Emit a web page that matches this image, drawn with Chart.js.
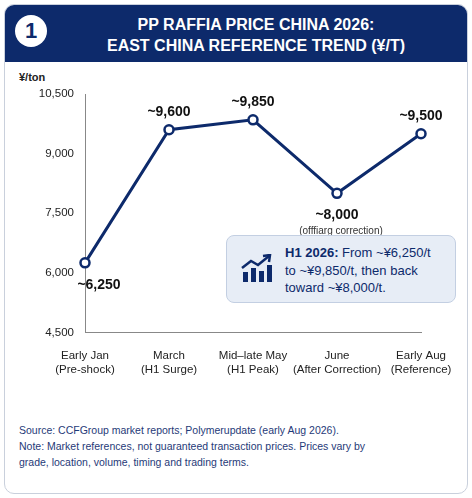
<!DOCTYPE html>
<html>
<head>
<meta charset="utf-8">
<script src="https://cdn.jsdelivr.net/npm/chart.js@4"></script>
<style>
  body { margin: 0; background: #fff; font-family: "Liberation Sans", Arial, sans-serif; }
  #card { position: absolute; left: 4px; top: 4px; width: 462px; height: 488px; border: 1px solid #c9d0dc; border-radius: 10px; overflow: hidden; background: #fff; }
  #head { position: absolute; left: 0; top: 0; width: 462px; height: 57px; background: #0d2a6b; color: #fff; }
  #badge { position: absolute; left: 10px; top: 10px; width: 32px; height: 32px; border-radius: 50%; background: #fff; color: #0d2a6b; font: bold 22px "Liberation Sans"; text-align: center; line-height: 32px; }
  #title { position: absolute; left: 40px; width: 422px; top: 9px; text-align: center; font: bold 16px "Liberation Sans"; line-height: 21px; }
  #unit { position: absolute; left: 14px; top: 66px; font: bold 11px "Liberation Sans"; color: #222; }
  #wrap { position: absolute; left: 0; top: 79px; width: 462px; height: 302px; }
  #note { position: absolute; left: 221px; top: 230px; width: 228px; height: 66px; background: #e7edf6; border: 1px solid #c3cfe2; border-radius: 8px; }
  #note svg { position: absolute; left: 14px; top: 18px; }
  #note p { position: absolute; left: 58px; top: 8px; margin: 0; font: 13px "Liberation Sans"; line-height: 17.5px; color: #0d2a6b; }
  #foot { position: absolute; left: 14px; top: 417px; font: 10.5px "Liberation Sans"; color: #1f3a78; line-height: 16px; }
</style>
</head>
<body>
<div id="card">
  <div id="head">
    <div id="badge">1</div>
    <div id="title">PP RAFFIA PRICE CHINA 2026:<br>EAST CHINA REFERENCE TREND (¥/T)</div>
  </div>
  <div id="unit">¥/ton</div>
  <div id="wrap"><canvas id="c"></canvas></div>
  <div id="note">
    <svg width="34" height="30" viewBox="0 0 34 30">
      <rect x="2" y="18" width="5" height="10" fill="#0d2a6b"/>
      <rect x="10" y="14" width="5" height="14" fill="#0d2a6b"/>
      <rect x="18" y="17" width="5" height="11" fill="#0d2a6b"/>
      <rect x="26" y="11" width="5" height="17" fill="#0d2a6b"/>
      <polyline points="1,14 10,7 17,11 28,2" fill="none" stroke="#0d2a6b" stroke-width="2.5"/>
      <polyline points="22,2 29,1 28,8" fill="none" stroke="#0d2a6b" stroke-width="2.5"/>
    </svg>
    <p><b>H1 2026:</b> From ~¥6,250/t<br>to ~¥9,850/t, then back<br>toward ~¥8,000/t.</p>
  </div>
  <div id="foot">Source: CCFGroup market reports; Polymerupdate (early Aug 2026).<br>Note: Market references, not guaranteed transaction prices. Prices vary by<br>grade, location, volume, timing and trading terms.</div>
</div>
<script>
const categories = [["Early Jan", "(Pre-shock)"], ["March", "(H1 Surge)"], ["Mid–late May", "(H1 Peak)"], ["June", "(After Correction)"], ["Early Aug", "(Reference)"]];
const prices = [6250, 9600, 9850, 8000, 9500];
const pointLabels = ["~6,250", "~9,600", "~9,850", "~8,000", "~9,500"];
const subLabels = ["", "", "", "(offfiarg correction)", ""];
const yTicks = [4500, 6000, 7500, 9000, 10500];

const navy = "#0d2a6b";

// value labels beside each point
const labelPlugin = {
    id: "labels",
    afterDatasetsDraw(chart) {
        const ctx = chart.ctx;
        const pts = chart.getDatasetMeta(0).data;
        ctx.save();
        ctx.textAlign = "center";
        pts.forEach((p, i) => {
            ctx.fillStyle = "#111";
            ctx.font = "bold 14px 'Liberation Sans'";
            let y = (i === 0 || i === 3) ? p.y + 26 : p.y - 14;
            let x = i === 0 ? p.x + 14 : p.x;
            ctx.fillText(pointLabels[i], x, y);
            if (subLabels[i]) {
                ctx.font = "10px 'Liberation Sans'";
                ctx.fillStyle = "#333";
                ctx.fillText(subLabels[i], p.x + 4, y + 15);
            }
        });
        ctx.restore();
    }
};

new Chart(document.getElementById("c"), {
    type: "line",
    data: {
        labels: categories,
        datasets: [{
            data: prices,
            borderColor: navy,
            borderWidth: 3,
            pointRadius: 4.5,
            pointBorderWidth: 2.5,
            pointBackgroundColor: "#fff",
            pointBorderColor: navy,
            tension: 0
        }]
    },
    options: {
        responsive: true,
        maintainAspectRatio: false,
        animation: false,
        layout: { padding: { top: 10, right: 46, left: 4 } },
        plugins: { legend: { display: false }, tooltip: { enabled: false } },
        scales: {
            x: {
                offset: false,
                grid: { display: false },
                border: { display: true, color: "#888" },
                ticks: { color: "#222", font: { size: 11.5, family: "Liberation Sans" }, maxRotation: 0, autoSkip: false, padding: 9 }
            },
            y: {
                min: 4500, max: 10500,
                afterBuildTicks: s => { s.ticks = yTicks.map(v => ({ value: v })); },
                afterFit: s => { s.width = 76; },
                grid: { display: false },
                border: { display: true, color: "#888" },
                ticks: { color: "#222", font: { size: 11.5, family: "Liberation Sans" }, callback: v => v.toLocaleString("en-US") }
            }
        }
    },
    plugins: [labelPlugin]
});
</script>
</body>
</html>
